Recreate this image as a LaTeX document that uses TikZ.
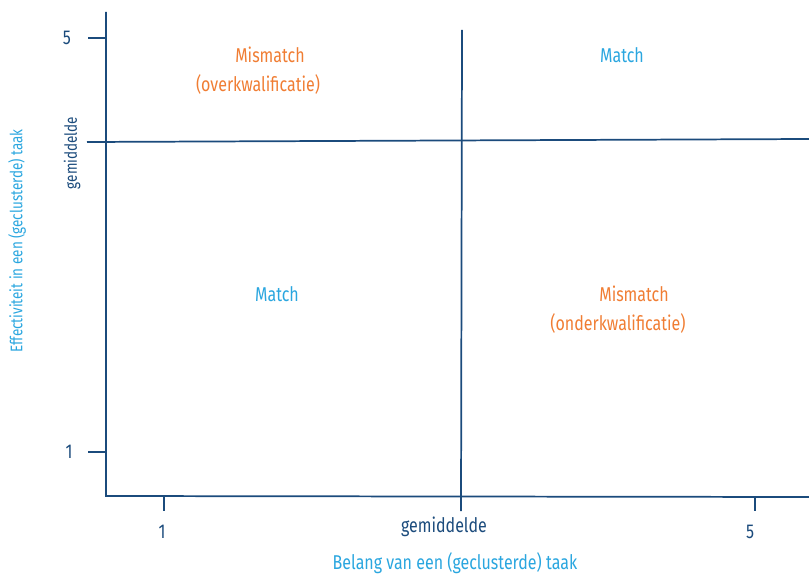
\documentclass[tikz,border=0pt]{standalone}
\usepackage{fontspec}
\setmainfont{Fira Sans}[FakeStretch=0.8]
\usepackage{tikz}
\usetikzlibrary{positioning}
\definecolor{axisblue}{HTML}{1B4B7C}
\definecolor{matchcyan}{HTML}{2AA6DF}
\definecolor{mismatchorange}{HTML}{F07D33}
\tikzset{
  axisline/.style={
    draw=axisblue,
    line width = 1.3pt,
  },
  ticklabel/.style={
    text=axisblue,
    font=\fontsize{15}{18}\selectfont,
    inner sep=0pt,
  },
  sidelabel/.style={
    text=axisblue,
    font=\fontsize{12.6}{15}\selectfont,
    inner sep=0pt,
    rotate=90,
  },
  matchlabel/.style={
    text=matchcyan,
    font=\fontsize{15}{18}\selectfont,
    inner sep=0pt,
  },
  mismatchlabel/.style={
    text=mismatchorange,
    font=\fontsize{15}{18}\selectfont,
    inner sep=0pt,
  },
  axistitle/.style={
    text=matchcyan,
    font=\fontsize{15}{18}\selectfont,
    inner sep=0pt,
  },
}

\begin{document}
\begin{tikzpicture}[x=0.75pt,y=-0.75pt]
    \useasboundingbox (0,0) rectangle (809,574);
    % axes
    \coordinate (top) at (106,12);
    \coordinate (origin) at (106,496);
    \coordinate (right) at (809,497);
    \draw [axisline] (top) -- (origin) -- (right);
    % average lines
    \coordinate (avgl) at (87,142);
    \coordinate (avgr) at (809,139);
    \coordinate (avgt) at (462,30);
    \coordinate (avgb) at (461,511);
    \draw [axisline] (avgl) -- (avgr);
    \draw [axisline] (avgt) -- (avgb);
    % ticks
    \coordinate (y5) at (106,38);
    \coordinate (y5l) at (88,38);
    \coordinate (y1) at (106,452);
    \coordinate (y1l) at (88,452);
    \coordinate (x1) at (164,496);
    \coordinate (x1b) at (164,511);
    \coordinate (x5) at (755,497);
    \coordinate (x5b) at (755,511);
    \draw [axisline] (y5l) -- (y5);
    \draw [axisline] (y1l) -- (y1);
    \draw [axisline] (x1) -- (x1b);
    \draw [axisline] (x5) -- (x5b);
    % tick labels
    \node (ly5) [ticklabel] at (67,38) {5};
    \node (ly1) [ticklabel] at (69,452) {1};
    \node (lx1) [ticklabel] at (162,532) {1};
    \node (lx5) [ticklabel] at (750,532) {5};
    \node (lxavg) [ticklabel] at (444,527) {gemiddelde};
    \node (lyavg) [sidelabel] at (72,153) {gemiddelde};
    % axis titles
    \node (xtitle) [axistitle] at (455,563) {Belang van een (geclusterde) taak};
    \node (ytitle) [axistitle, sidelabel, text=matchcyan] at (17,241) {Effectiviteit in een (geclusterde) taak};
    % quadrants
    \node (q1) [mismatchlabel] at (270,55) {Mismatch};
    \node (q1b) [mismatchlabel] at (258,85) {(overkwalificatie)};
    \node (q2) [matchlabel] at (622,55) {Match};
    \node (q3) [matchlabel] at (277,294) {Match};
    \node (q4) [mismatchlabel] at (634,294) {Mismatch};
    \node (q4b) [mismatchlabel] at (618,323) {(onderkwalificatie)};
\end{tikzpicture}
\end{document}
